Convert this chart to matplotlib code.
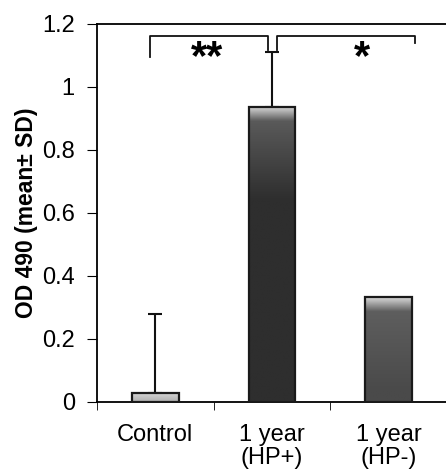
import matplotlib
matplotlib.use('Agg')
import matplotlib.pyplot as plt
import numpy as np

plt.rcParams['font.family'] = ['Liberation Sans', 'DejaVu Sans']

categories = ['Control', '1 year\n(HP+)', '1 year\n(HP-)']
means = [0.03, 0.937, 0.333]
sd_upper = [0.25, 0.174, 0.0]
mid_colors = ['#9a9a9a', '#5a5a5a', '#5e5e5e']
deep_colors = ['#555555', '#2e2e2e', '#4a4a4a']

fig = plt.figure(figsize=(4.46, 4.75), dpi=100)
ax = fig.add_axes([0.2175, 0.1537, 0.785, 0.7958])

x = np.arange(len(categories))


def gradient_bar(ax, xc, h, w, mid, deep):
    # vertical shading: light bevel at the top, darker further down
    n = 200
    y = np.linspace(h, 0, n)          # row 0 = top of bar
    d = h - y
    light = np.array([0.85, 0.85, 0.85])
    c_mid = np.array(matplotlib.colors.to_rgb(mid))
    c_deep = np.array(matplotlib.colors.to_rgb(deep))
    t1 = np.clip(d / 0.045, 0, 1)[:, None]
    t2 = np.clip((d - 0.045) / 0.25, 0, 1)[:, None]
    col = light * (1 - t1) + c_mid * t1
    col = col * (1 - t2) + c_deep * t2
    img = np.repeat(col[:, None, :], 2, axis=1)
    ax.imshow(img, extent=[xc - w / 2, xc + w / 2, 0, h], origin='upper',
              aspect='auto', zorder=2, interpolation='bilinear')
    ax.add_patch(plt.Rectangle((xc - w / 2, 0), w, h, fill=False,
                               edgecolor='#1a1a1a', lw=1.6, zorder=3))


w = 0.4
for xi, m, c1, c2 in zip(x, means, mid_colors, deep_colors):
    gradient_bar(ax, xi, m, w, c1, c2)

ax.errorbar(x[:2], means[:2], yerr=[[0, 0], sd_upper[:2]], fmt='none',
            ecolor='#111111', elinewidth=1.5, capsize=5, capthick=1.5, zorder=1)

# significance brackets
ax.plot([-0.046, -0.046, 0.966, 0.966], [1.095, 1.162, 1.162, 1.117], color='#111111', lw=1.3)
ax.plot([1.043, 1.043, 2.226, 2.226], [1.117, 1.162, 1.162, 1.14], color='#111111', lw=1.3)
ax.text(0.443, 1.155, '**', ha='center', va='top', fontsize=30, fontweight='bold')
ax.text(1.77, 1.155, '*', ha='center', va='top', fontsize=30, fontweight='bold')

ax.set_xlim(-0.5, 2.5)
ax.set_ylim(0, 1.2)
ax.set_yticks([0, 0.2, 0.4, 0.6, 0.8, 1.0, 1.2])
ax.set_yticklabels(['0', '0.2', '0.4', '0.6', '0.8', '1', '1.2'], fontsize=17)
ax.set_xticks(x)
ax.set_xticklabels(categories, fontsize=17, linespacing=1.05)
ax.tick_params(axis='x', which='major', length=0, pad=16)
ax.set_xticks([-0.5, 0.5, 1.5, 2.5], minor=True)
ax.tick_params(axis='x', which='minor', length=6, direction='out')
ax.tick_params(axis='y', length=7, direction='out', pad=9)
ax.set_ylabel('OD 490 (mean± SD)', fontsize=16.5, fontweight='bold', labelpad=3)

for s in ['top', 'left', 'bottom']:
    ax.spines[s].set_linewidth(1.3)
ax.spines['right'].set_visible(False)

fig.savefig('out.png', dpi=100)
